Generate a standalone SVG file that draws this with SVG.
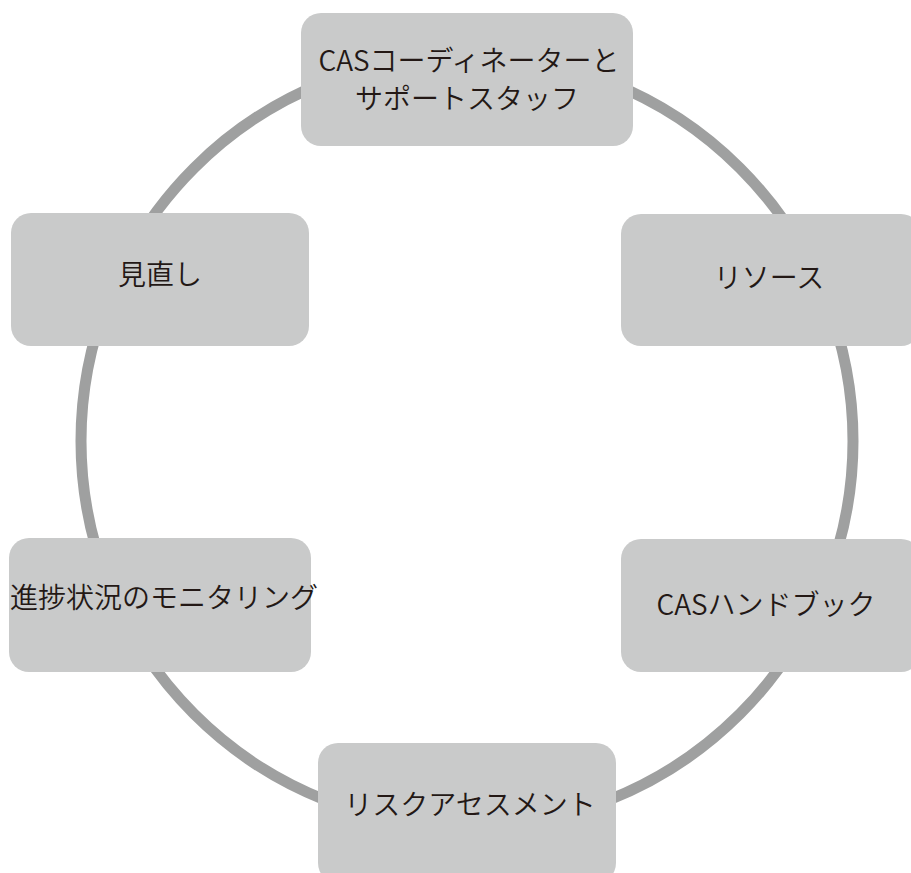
<svg xmlns="http://www.w3.org/2000/svg" width="911" height="873" viewBox="0 0 911 873">
<style>
.box{fill:#c9caca;}
.lbl{font-family:"Noto Sans CJK JP","Noto Sans",sans-serif;font-size:28px;font-weight:350;fill:#231815;text-anchor:middle;}
.ring{fill:none;stroke:#9fa0a0;stroke-width:11;}
</style>
<rect width="911" height="873" fill="#ffffff"/>
<g id="connectors">
<circle class="ring" cx="467" cy="441" r="386"/>
</g>
<g id="node-coordinator">
<rect class="box" x="301" y="13" width="332" height="133" rx="20"/>
<text class="lbl" x="469" y="71">CASコーディネーターと</text>
<text class="lbl" x="467" y="109">サポートスタッフ</text>
</g>
<g id="node-resources">
<rect class="box" x="621" y="214" width="300" height="132" rx="20"/>
<text class="lbl" x="769" y="288">リソース</text>
</g>
<g id="node-handbook">
<rect class="box" x="621" y="539" width="300" height="133" rx="20"/>
<text class="lbl" x="766" y="615">CASハンドブック</text>
</g>
<g id="node-risk">
<rect class="box" x="318" y="743" width="298" height="140" rx="20"/>
<text class="lbl" x="470" y="815">リスクアセスメント</text>
</g>
<g id="node-monitoring">
<rect class="box" x="9" y="538" width="302" height="134" rx="20"/>
<text class="lbl" x="164" y="608">進捗状況のモニタリング</text>
</g>
<g id="node-review">
<rect class="box" x="11" y="213" width="298" height="133" rx="20"/>
<text class="lbl" x="160" y="285">見直し</text>
</g>
</svg>
